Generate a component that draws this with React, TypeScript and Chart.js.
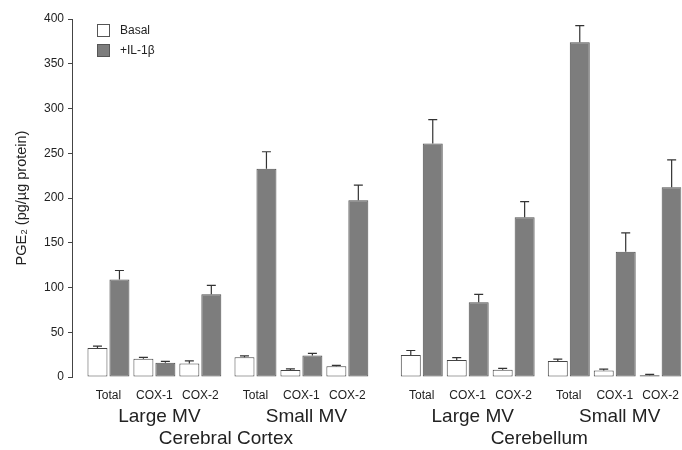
import React, { useEffect, useRef } from "react";
import { Chart, registerables } from "chart.js";

Chart.register(...registerables);

// ---- data ----
const subCategories = ["Total", "COX-1", "COX-2", "Total", "COX-1", "COX-2", "Total", "COX-1", "COX-2", "Total", "COX-1", "COX-2"];
const groupLabels = ["Large MV", "Small MV", "Large MV", "Small MV"];
const regionLabels = ["Cerebral Cortex", "Cerebellum"];
const seriesNames = ["Basal", "+IL-1β"];
const basal = [32.4, 20.5, 15, 22, 7.8, 12, 24.6, 19, 8.2, 17.9, 7.4, 1.9];
const basalErr = [2, 1.5, 3, 1.5, 1.2, 1, 5, 2.6, 1.5, 2, 1.5, 1];
const il1b = [109, 16, 92.4, 232.7, 24, 197.4, 261, 83.4, 178.4, 374, 140, 212];
const il1bErr = [10, 1.5, 10, 19, 2.5, 17, 26.5, 9, 17.6, 18.5, 21, 30.5];
const yTicks = [0, 50, 100, 150, 200, 250, 300, 350, 400];
const yTitle = "PGE₂ (pg/µg protein)";

const FONT = "'Liberation Sans', Arial, Helvetica, sans-serif";
const INK = "#222";

// category position along the x axis, with small gaps between groups
const GROUP_GAP = 0.2;
const REGION_GAP = 0.62;
const positions = subCategories.map((_, i) => {
  const g = Math.floor(i / 3);
  const r = Math.floor(i / 6);
  return i + GROUP_GAP * (g - r) + REGION_GAP * r;
});

const errorBars = {
  id: "errorBars",
  afterDatasetsDraw(chart: any) {
    const ctx = chart.ctx;
    const y = chart.scales.y;
    const errs = [basalErr, il1bErr];
    chart.data.datasets.forEach((ds: any, di: number) => {
      const meta = chart.getDatasetMeta(di);
      meta.data.forEach((bar: any, i: number) => {
        const v = ds.data[i].y;
        const top = y.getPixelForValue(v + errs[di][i]);
        ctx.save();
        ctx.strokeStyle = "#333";
        ctx.lineWidth = 1.2;
        ctx.beginPath();
        ctx.moveTo(bar.x, bar.y);
        ctx.lineTo(bar.x, top);
        ctx.moveTo(bar.x - 4.5, top);
        ctx.lineTo(bar.x + 4.5, top);
        ctx.stroke();
        ctx.restore();
      });
    });
  },
};

const annotations = {
  id: "annotations",
  afterDraw(chart: any) {
    const ctx = chart.ctx;
    const x = chart.scales.x;
    const area = chart.chartArea;
    ctx.save();
    ctx.fillStyle = INK;
    ctx.textAlign = "center";
    ctx.textBaseline = "middle";
    ctx.font = `19px ${FONT}`;
    groupLabels.forEach((lab, g) => {
      const cx = x.getPixelForValue(positions[g * 3 + 1]) + 5;
      ctx.fillText(lab, cx, 417);
    });
    regionLabels.forEach((lab, r) => {
      const cx = (x.getPixelForValue(positions[r * 6]) + x.getPixelForValue(positions[r * 6 + 5])) / 2 - 2;
      ctx.fillText(lab, cx, 439);
    });
    // legend
    const lx = area.left + 25;
    const ly = area.top + 5;
    const colors = ["#ffffff", "#7d7d7d"];
    const borders = ["#555", "#555"];
    ctx.font = `12px ${FONT}`;
    ctx.textAlign = "left";
    seriesNames.forEach((name, k) => {
      const by = ly + k * 20;
      ctx.fillStyle = colors[k];
      ctx.fillRect(lx, by, 13, 13);
      ctx.strokeStyle = borders[k];
      ctx.lineWidth = 1;
      ctx.strokeRect(lx + 0.5, by + 0.5, 12, 12);
      ctx.fillStyle = INK;
      ctx.fillText(name, lx + 23, by + 7);
    });
    ctx.restore();
  },
};

export default function App() {
  const ref = useRef<HTMLCanvasElement | null>(null);
  useEffect(() => {
    document.body.style.margin = "0";
    if (!ref.current) return;
    const chart = new Chart(ref.current, {
      type: "bar",
      data: {
        datasets: [
          {
            label: seriesNames[0],
            data: basal.map((v, i) => ({ x: positions[i], y: v })),
            backgroundColor: "#ffffff",
            borderColor: "#444",
            borderWidth: 1,
            borderSkipped: false,
          },
          {
            label: seriesNames[1],
            data: il1b.map((v, i) => ({ x: positions[i], y: v })),
            backgroundColor: "#7d7d7d",
            borderColor: "#505050",
            borderWidth: 1,
            borderSkipped: false,
          },
        ],
      },
      options: {
        animation: false,
        responsive: false,
        maintainAspectRatio: false,
        categoryPercentage: 44 / 46,
        barPercentage: 20 / 22,
        layout: { padding: { top: 19, left: 0, right: 0, bottom: 0 } },
        plugins: { legend: { display: false }, tooltip: { enabled: false } },
        scales: {
          x: {
            type: "linear",
            offset: false,
            min: -0.7935,
            max: 12.467,
            grid: { display: false },
            border: { display: false },
            afterBuildTicks: (s: any) => {
              s.ticks = positions.map((p) => ({ value: p }));
            },
            afterFit: (s: any) => {
              s.height = 73;
            },
            ticks: {
              autoSkip: false,
              maxRotation: 0,
              padding: 3,
              color: INK,
              font: { family: FONT, size: 12 },
              callback: (_v: any, i: number) => subCategories[i],
            },
          },
          y: {
            min: 0,
            max: 400,
            afterBuildTicks: (s: any) => {
              s.ticks = yTicks.map((v) => ({ value: v }));
            },
            afterFit: (s: any) => {
              s.width = 72;
            },
            grid: { display: true, drawOnChartArea: false, drawTicks: true, tickLength: 4, color: "#444" },
            border: { display: true, color: "#444", width: 1 },
            ticks: { padding: 4, color: INK, font: { family: FONT, size: 12 } },
            title: {
              display: true,
              text: yTitle,
              color: INK,
              font: { family: FONT, size: 14.5 },
              padding: { top: 13, bottom: 0 },
            },
          },
        },
      },
      plugins: [errorBars, annotations],
    });
    return () => chart.destroy();
  }, []);
  return (
    <div style={{ width: 682, height: 450 }}>
      <canvas ref={ref} width={682} height={450} style={{ display: "block" }} />
    </div>
  );
}
